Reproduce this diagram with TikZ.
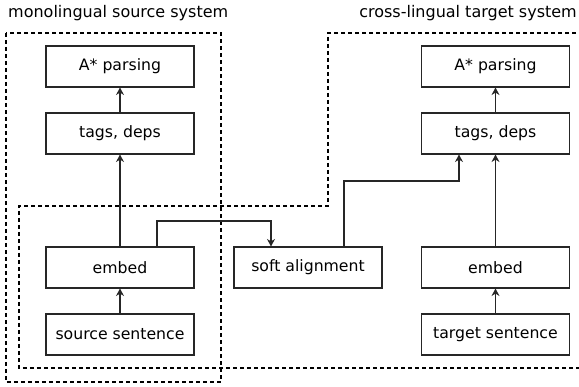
\documentclass[tikz,border=0pt]{standalone}
\usepackage{fontspec}
\setmainfont{DejaVu Sans}
\usetikzlibrary{arrows.meta}
\begin{document}
\begin{tikzpicture}[x=1pt,y=-1pt,
  box/.style={draw=black!85,line width=1.1pt,minimum width=148pt,minimum height=41pt,inner sep=0pt,font=\fontsize{15.7}{18}\selectfont},
  conn/.style={draw=black!85,line width=1.1pt,-{Stealth[length=7.5pt,width=8pt,inset=2.5pt]}},
  dashbox/.style={draw=black,line width=1.1pt,dash pattern=on 4pt off 3pt},
  title/.style={font=\fontsize{16}{18}\selectfont,inner sep=0pt}]
\useasboundingbox (0,0) rectangle (579,387);
% dashed regions
\draw[dashbox] (6,33) rectangle (221,382);
\draw[dashbox] (590,33) -- (328,33) -- (328,206) -- (19,206) -- (19,368) -- (590,368);
% titles
\node[title,anchor=west] (t1) at (8,13) {monolingual source system};
\node[title,anchor=east] (t2) at (577,13) {cross-lingual target system};
% left column
\node[box] (ap1) at (120,66.5) {A* parsing};
\node[box] (td1) at (120,133.5) {tags, deps};
\node[box] (em1) at (120,267.5) {embed};
\node[box] (ss) at (120,334.5) {source sentence};
% middle
\node[box] (sa) at (308,267.5) {soft alignment};
% right column
\node[box] (ap2) at (495.5,66.5) {A* parsing};
\node[box] (td2) at (495.5,133.5) {tags, deps};
\node[box] (em2) at (495.5,267.5) {embed};
\node[box] (ts) at (495.5,334.5) {target sentence};
% connectors
\draw[conn] (ss) -- (em1);
\draw[conn] (em1) -- (td1);
\draw[conn] (td1) -- (ap1);
\draw[conn] (ts) -- (em2);
\draw[conn] (em2) -- (td2);
\draw[conn] (td2) -- (ap2);
\draw[conn] (em1.north -| 157,0) -- (157,221) -- (271,221) -- (sa.north -| 271,0);
\draw[conn] (sa.north -| 344,0) -- (344,181) -- (459,181) -- (td2.south -| 459,0);
\end{tikzpicture}
\end{document}
